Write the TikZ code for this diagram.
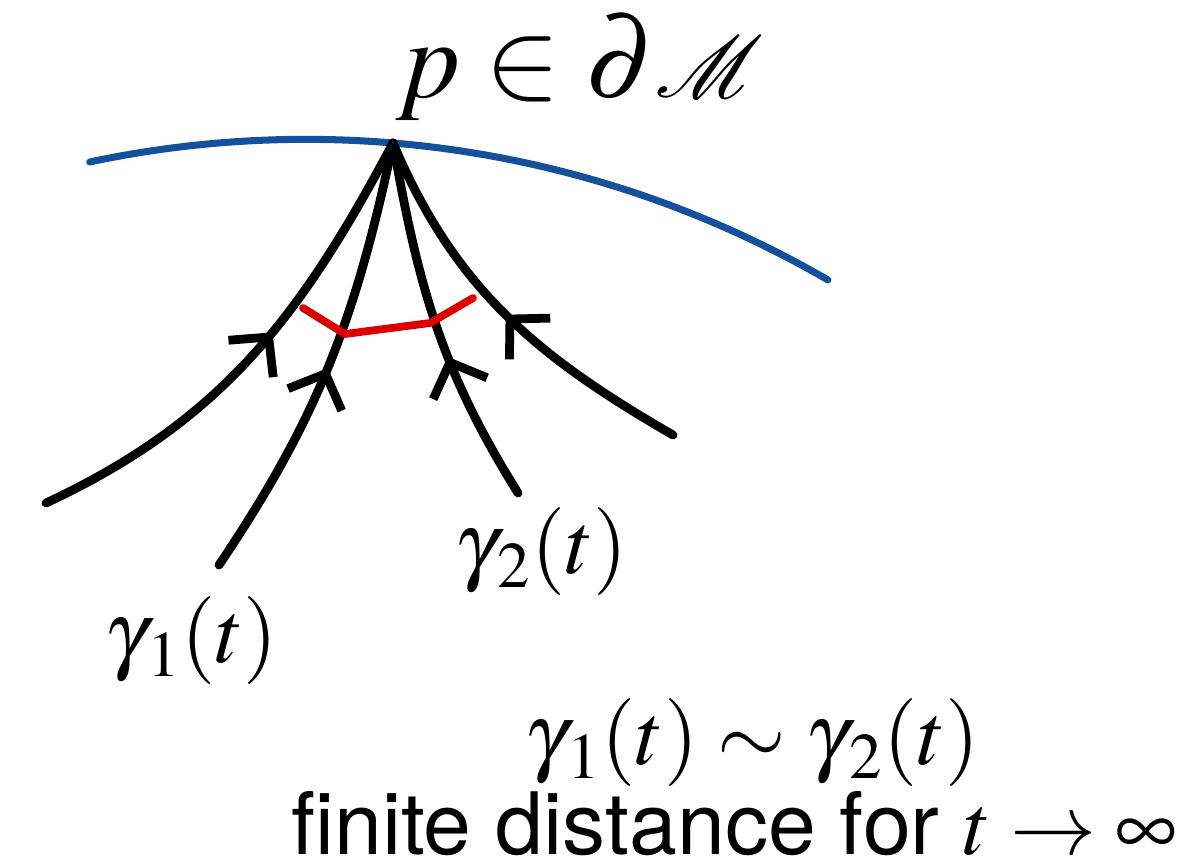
\documentclass[tikz,border=0pt]{standalone}
\usepackage{mathptmx}
\usepackage{mathrsfs}
\usepackage{fontspec}
\setsansfont{TeX Gyre Heros}
\usetikzlibrary{arrows.meta, decorations.markings, positioning}
\definecolor{bdryblue}{RGB}{20,80,155}
\definecolor{gapred}{RGB}{220,0,0}

\begin{document}
\begin{tikzpicture}[
    geod/.style={line width=2.5pt, line cap=round},
    flowmark/.style={postaction={decorate}, decoration={markings, mark=at position #1 with {\arrow{Straight Barb[length=2.8mm, width=5.8mm]}}}},
    boundary/.style={draw=bdryblue, line width=2pt, line cap=round},
    gap/.style={draw=gapred, line width=2.2pt, line cap=round, line join=round},
    mathlabel/.style={font=\fontsize{25}{30}\selectfont, inner sep=0pt},
    textlabel/.style={font=\sffamily\fontsize{24.5}{30}\selectfont, inner sep=0pt}
]
\useasboundingbox (0,0) rectangle (11.99,8.65);

\coordinate (p) at (3.93,7.22);
\coordinate (e1) at (0.46,3.62);
\coordinate (e2) at (2.19,3.00);
\coordinate (e3) at (5.18,3.72);
\coordinate (e4) at (6.73,4.30);

% boundary of the manifold
\draw[boundary] (p) arc[start angle=85.19, end angle=102, radius=10.395];
\draw[boundary] (p) arc[start angle=85.19, end angle=59.85, radius=10.395];

% curves running into p
\draw[geod, flowmark=0.56] (e1) to[out=25, in=-118] (p);
\draw[geod, flowmark=0.49] (e2) to[out=56, in=-102] (p);
\draw[geod, flowmark=0.41] (e3) to[out=122, in=-80] (p);
\draw[geod, flowmark=0.50] (e4) to[out=150, in=-67] (p);

% finite separation
\draw[gap] (3.03,5.57) -- (3.45,5.31) -- (4.30,5.42) -- (4.73,5.67);

% labels
\node (plbl) [mathlabel, anchor=base, font=\fontsize{32}{36}\selectfont] at (5.80,7.68) {$p \in \partial\mathscr{M}$};
\node (g1) [mathlabel] at (1.91,2.24) {$\gamma_{\,1}(t)$};
\node (g2) [mathlabel] at (5.41,3.13) {$\gamma_{\,2}(t)$};
\node (equiv) [mathlabel] at (7.52,1.22) {$\gamma_{\,1}(t) \sim \gamma_{\,2}(t)$};
\node (fin) [textlabel, anchor=base] at (7.34,0.11) {finite distance for $t \to \infty$};

\end{tikzpicture}
\end{document}
